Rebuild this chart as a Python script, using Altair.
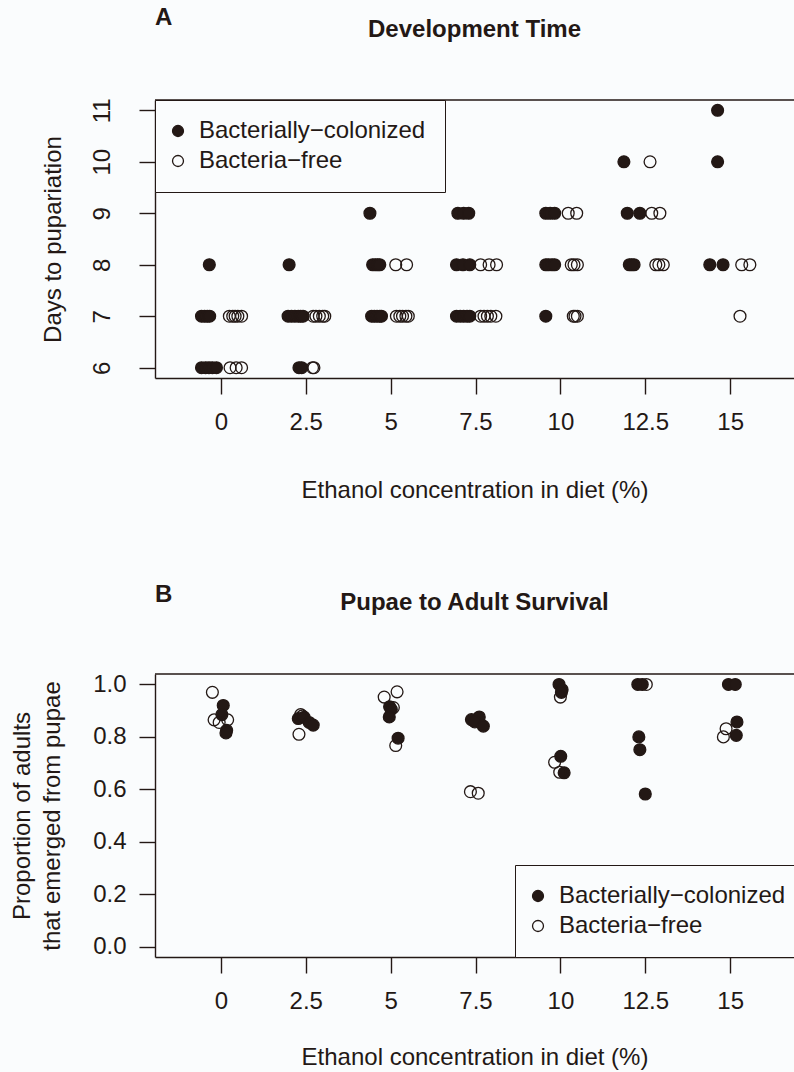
import altair as alt
import pandas as pd

INK = "#231815"
BG = "#fafcfd"
FONT = "Liberation Sans"
GROUPS = ["Bacterially−colonized", "Bacteria−free"]

ETHANOL_TICKS = [0, 2.5, 5, 7.5, 10, 12.5, 15]
DAYS_TICKS = [6, 7, 8, 9, 10, 11]
PROP_TICKS = [0.0, 0.2, 0.4, 0.6, 0.8, 1.0]

# ---- Panel A: development time (x = jittered ethanol %, y = days) ----
a_col_x = [-0.34, -0.57, -0.48, -0.40, -0.33, -0.57, -0.45, -0.35, -0.25, -0.13,
           2.01, 1.98, 2.08, 2.18, 2.28, 2.35, 2.42, 2.30, 2.38,
           4.39, 4.47, 4.55, 4.62, 4.68, 4.44, 4.52, 4.60, 4.68, 4.73,
           6.98, 7.15, 7.30, 6.94, 7.13, 7.33, 6.94, 7.05, 7.15, 7.25, 7.33,
           9.57, 9.70, 9.83, 9.57, 9.65, 9.75, 9.83, 9.57,
           11.87, 11.97, 12.34, 12.03, 12.10, 12.17,
           14.63, 14.63, 14.40, 14.79]
a_col_y = [8, 7, 7, 7, 7, 6, 6, 6, 6, 6,
           8, 7, 7, 7, 7, 7, 7, 6, 6,
           9, 8, 8, 8, 8, 7, 7, 7, 7, 7,
           9, 9, 9, 8, 8, 8, 7, 7, 7, 7, 7,
           9, 9, 9, 8, 8, 8, 8, 7,
           10, 9, 9, 8, 8, 8,
           11, 10, 8, 8]
a_free_x = [0.25, 0.35, 0.42, 0.50, 0.61, 0.27, 0.45, 0.61,
            2.72, 2.80, 2.90, 3.00, 3.06, 2.70, 2.74,
            5.15, 5.47, 5.17, 5.27, 5.35, 5.45, 5.52,
            7.65, 7.90, 8.12, 7.65, 7.75, 7.85, 7.95, 8.10,
            10.23, 10.48, 10.32, 10.40, 10.50, 10.38, 10.43, 10.50,
            12.64, 12.69, 12.93, 12.81, 12.90, 13.03,
            15.34, 15.58, 15.29]
a_free_y = [7, 7, 7, 7, 7, 6, 6, 6,
            7, 7, 7, 7, 7, 6, 6,
            8, 8, 7, 7, 7, 7, 7,
            8, 8, 8, 7, 7, 7, 7, 7,
            9, 9, 8, 8, 8, 7, 7, 7,
            10, 9, 9, 8, 8, 8,
            8, 8, 7]

# ---- Panel B: pupae to adult survival ----
b_col_x = [0.07, 0.03, 0.17, 0.15,
           2.28, 2.45, 2.60, 2.72,
           4.97, 5.02, 4.96, 5.22,
           7.38, 7.61, 7.48, 7.73,
           9.96, 10.05, 10.03, 10.01, 10.11,
           12.28, 12.41, 12.31, 12.34, 12.50,
           14.95, 15.15, 15.20, 15.18]
b_col_y = [0.920, 0.885, 0.825, 0.815,
           0.870, 0.875, 0.855, 0.845,
           0.915, 0.905, 0.876, 0.795,
           0.866, 0.876, 0.857, 0.841,
           1.000, 0.980, 0.970, 0.726, 0.663,
           1.000, 1.000, 0.800, 0.751, 0.582,
           1.000, 1.000, 0.857, 0.806]
b_free_x = [-0.25, -0.20, -0.05, 0.20,
            2.35, 2.30, 2.40,
            4.81, 5.19, 5.08, 5.15,
            7.35, 7.58,
            10.00, 9.83, 9.98,
            12.53,
            14.88, 14.80]
b_free_y = [0.970, 0.865, 0.855, 0.865,
            0.885, 0.810, 0.880,
            0.952, 0.972, 0.912, 0.767,
            0.591, 0.585,
            0.952, 0.703, 0.665,
            1.000,
            0.831, 0.800]

dfA = pd.DataFrame({
    "x": a_col_x + a_free_x,
    "y": a_col_y + a_free_y,
    "group": [GROUPS[0]] * len(a_col_x) + [GROUPS[1]] * len(a_free_x),
})
dfB = pd.DataFrame({
    "x": b_col_x + b_free_x,
    "y": b_col_y + b_free_y,
    "group": [GROUPS[0]] * len(b_col_x) + [GROUPS[1]] * len(b_free_x),
})

W, H = 639, 857
HA = 278
B_TOP = 574
XDOM = [-1.94, 16.88]

def fill_enc(lx, ly):
    return alt.Fill(
        "group:N",
        scale=alt.Scale(domain=GROUPS, range=[INK, "transparent"]),
        legend=alt.Legend(orient="none", legendX=lx, legendY=ly, title=None,
                          strokeColor=INK, fillColor=BG, padding=19,
                          symbolType="circle", symbolSize=120, symbolOffset=-8,
                          symbolStrokeColor=INK, symbolStrokeWidth=1.3,
                          labelFont=FONT, labelFontSize=24, labelColor=INK,
                          labelLimit=400, labelOffset=9, rowPadding=6),
    )

def x_axis(offset, title_y):
    return alt.Axis(values=ETHANOL_TICKS, labelExpr="'' + datum.value", orient="bottom",
                    offset=offset, title="Ethanol concentration in diet (%)",
                    titleY=title_y, titleBaseline="middle", labelPadding=16,
                    labelOverlap=False, labelFlush=False)

pts = dict(shape="circle", filled=True, size=140, stroke=INK, strokeWidth=1.3, opacity=1)

layerA = alt.Chart(dfA).mark_point(**pts).encode(
    x=alt.X("x:Q", scale=alt.Scale(domain=XDOM, nice=False, zero=False),
            axis=x_axis(-(H - HA), 112)),
    y=alt.Y("y:Q", scale=alt.Scale(domain=[5.8, 11.2], range=[HA, 0], nice=False, zero=False),
            axis=alt.Axis(values=DAYS_TICKS, orient="left", labelAngle=270,
                          labelAlign="center", labelBaseline="alphabetic", labelPadding=30,
                          title="Days to pupariation", titleX=-95, titleY=HA / 2,
                          titleAngle=270, titleAlign="center", titleBaseline="alphabetic",
                          labelOverlap=False)),
    fill=fill_enc(0, 0),
)

layerB = alt.Chart(dfB).mark_point(**pts).encode(
    x=alt.X("x:Q", scale=alt.Scale(domain=XDOM, nice=False, zero=False),
            axis=x_axis(0, 100)),
    y=alt.Y("y:Q", scale=alt.Scale(domain=[-0.04, 1.04], range=[H, B_TOP], nice=False, zero=False),
            axis=alt.Axis(values=PROP_TICKS, format=".1f", orient="left", labelAngle=0,
                          labelAlign="right", labelBaseline="middle", labelPadding=13,
                          title=["Proportion of adults", "that emerged from pupae"],
                          titleX=-126, titleY=(B_TOP + H) / 2, titleAngle=270,
                          titleAlign="center", titleBaseline="alphabetic", titleLineHeight=30,
                          labelOverlap=False)),
    fill=fill_enc(360, 765),
)

one = pd.DataFrame({"k": [0]})
topA = alt.Chart(one).mark_rule(color=INK, strokeWidth=1.4).encode(
    x=alt.value(0), x2=alt.value(W), y=alt.value(0))
topB = alt.Chart(one).mark_rule(color=INK, strokeWidth=1.4).encode(
    x=alt.value(0), x2=alt.value(W), y=alt.value(B_TOP))

def label(txt, x, y, align):
    return alt.Chart(one).mark_text(font=FONT, fontSize=24, fontWeight="bold", color=INK,
                                    align=align, baseline="middle").encode(
        x=alt.value(x), y=alt.value(y), text=alt.value(txt))

titles = [
    label("A", 0, -82, "left"),
    label("Development Time", W / 2, -70, "center"),
    label("B", 0, 495, "left"),
    label("Pupae to Adult Survival", W / 2, 503, "center"),
]

chart = alt.layer(topA, topB, layerA, layerB, *titles).resolve_scale(
    x="independent", y="independent", fill="independent"
).properties(
    width=W, height=H,
    autosize=alt.AutoSizeParams(type="none"),
    padding={"left": 155, "top": 100, "right": 0, "bottom": 115},
    background=BG,
).configure_view(
    stroke=None
).configure_axis(
    domainColor=INK, domainWidth=1.4, tickColor=INK, tickWidth=1.4, tickSize=16,
    labelColor=INK, labelFont=FONT, labelFontSize=24,
    titleColor=INK, titleFont=FONT, titleFontSize=24, titleFontWeight="normal",
    grid=False,
)

chart.save("out.html", embed_options={"renderer": "svg", "actions": False})
